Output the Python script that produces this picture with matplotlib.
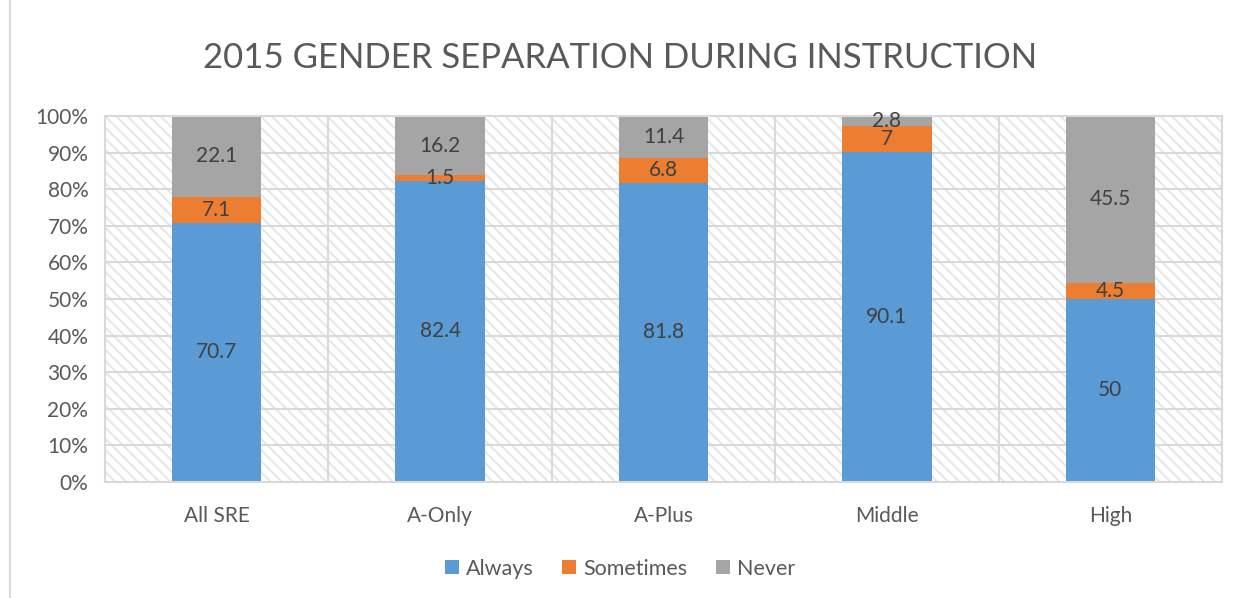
import numpy as np
import matplotlib.pyplot as plt
from matplotlib.patches import Rectangle

categories = ['All SRE', 'A-Only', 'A-Plus', 'Middle', 'High']
always = [70.7, 82.4, 81.8, 90.1, 50]
sometimes = [7.1, 1.5, 6.8, 7, 4.5]
never = [22.1, 16.2, 11.4, 2.8, 45.5]

plt.rcParams['font.family'] = ['Lato', 'DejaVu Sans']
plt.rcParams['hatch.linewidth'] = 1.3

fig = plt.figure(figsize=(12.4, 5.98), dpi=100)
ax = fig.add_axes([0.0847, 0.194, 0.9008, 0.612])

# 100% stacked: normalise each column
a = np.array(always, float)
s = np.array(sometimes, float)
n = np.array(never, float)
tot = a + s + n
a_p, s_p, n_p = a / tot * 100, s / tot * 100, n / tot * 100

x = np.arange(len(categories))
ax.set_xlim(-0.5, len(categories) - 0.5)
ax.set_ylim(0, 100)

# hatched plot area
ax.add_patch(Rectangle((0, 0), 1, 1, transform=ax.transAxes, facecolor='white',
                       edgecolor='#e4e4e4', linewidth=0, hatch='\\\\\\', zorder=0))
for yv in range(10, 100, 10):
    ax.axhline(yv, color='#d9d9d9', linewidth=1.5, zorder=1)
for xv in np.arange(0.5, len(categories) - 0.5, 1):
    ax.axvline(xv, color='#d9d9d9', linewidth=1.5, zorder=1)

width = 0.4
colors = ['#5b9bd5', '#ed7d31', '#a5a5a5']
labels = ['Always', 'Sometimes', 'Never']
bottom = np.zeros(len(categories))
for vals, raw, c, lab in zip([a_p, s_p, n_p], [always, sometimes, never], colors, labels):
    ax.bar(x, vals, width, bottom=bottom, color=c, label=lab, zorder=2)
    for xi, b, v, r in zip(x, bottom, vals, raw):
        ax.text(xi, b + v / 2, f'{r:g}', ha='center', va='center',
                fontsize=15, color='#404040', zorder=3)
    bottom += vals

for sp in ax.spines.values():
    sp.set_color('#d9d9d9')
    sp.set_linewidth(1.5)

ax.set_xticks(x)
ax.set_xticklabels(categories, fontsize=15, color='#595959')
ax.set_yticks(range(0, 101, 10))
ax.set_yticklabels([f'{v}%' for v in range(0, 101, 10)], fontsize=15, color='#595959')
ax.tick_params(axis='y', length=0, pad=12)
ax.tick_params(axis='x', length=0, pad=17)

fig.text(0.5, 0.903, '2015 GENDER SEPARATION DURING INSTRUCTION', ha='center', va='center',
         fontsize=25, color='#595959')

fig.legend(loc='lower center', bbox_to_anchor=(0.5, 0.0), ncol=3, frameon=False,
           fontsize=15.5, labelcolor='#595959', handlelength=0.65, handleheight=0.65,
           columnspacing=1.3, handletextpad=0.35)

fig.add_artist(Rectangle((0.008, -0.01), 1.0, 1.02, transform=fig.transFigure,
                         facecolor='none', edgecolor='#d9d9d9', linewidth=1.5))

fig.savefig('out.png', dpi=100)
